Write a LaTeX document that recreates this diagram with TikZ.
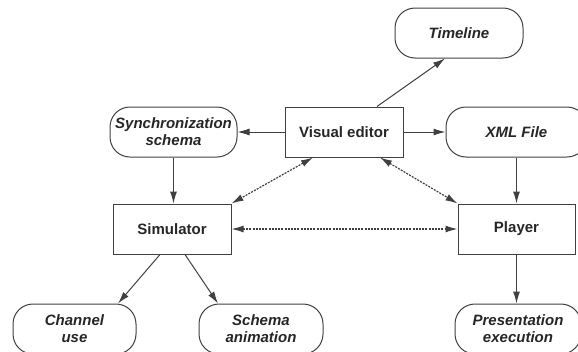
\documentclass[tikz,border=0pt]{standalone}
\usepackage{fontspec}
\setmainfont{Liberation Sans}
\usetikzlibrary{arrows.meta,calc}
\begin{document}
\begin{tikzpicture}[x=1pt,y=-1pt,
  every node/.style={font=\fontsize{15}{17}\selectfont\bfseries, text=black!85, align=center, inner sep=0pt, line width=1pt, draw=black!75},
  box/.style={draw, minimum height=50pt},
  oval/.style={draw, rounded corners=20pt, minimum height=50pt, font=\fontsize{15}{17}\selectfont\bfseries\itshape},
  tip/.tip={Latex[length=12pt,width=7pt]},
  arr/.style={-tip, line width=1pt, draw=black!75},
  dots/.style={tip-tip, line width=1.2pt, draw=black!75, dash pattern=on 2pt off 1.2pt}
]
\useasboundingbox (0,0) rectangle (578,351);

% components
\node[box, minimum width=118pt] (ve) at (344,132) {Visual editor};
\node[oval, minimum width=128pt] (tl) at (459,33) {Timeline};
\node[oval, minimum width=141pt] (xml) at (516.5,132) {XML File};
\node[oval, minimum width=127pt] (sync) at (173.5,132) {Synchronization\\schema};
\node[box, minimum width=118pt] (sim) at (172,229) {Simulator};
\node[box, minimum width=117pt] (pl) at (516.5,229) {Player};
\node[oval, minimum width=123pt] (ch) at (74.5,329) {Channel\\use};
\node[oval, minimum width=124pt] (sa) at (261,329) {Schema\\animation};
\node[oval, minimum width=126pt] (pe) at (518,329) {Presentation\\execution};

% data flow
\draw[arr] ($(ve.north)+(33,0)$) -- ($(tl.south)+(-14,0)$);
\draw[arr] (ve.west) -- (sync.east);
\draw[arr] (ve.east) -- (xml.west);
\draw[arr] (sync.south) -- (sync.south |- sim.north);
\draw[arr] (xml.south) -- (xml.south |- pl.north);
\draw[arr] (pl.south) -- (pl.south |- pe.north);
\draw[arr] ($(sim.south)+(-12,0)$) -- ($(ch.north)+(43.5,0)$);
\draw[arr] ($(sim.south)+(13,0)$) -- ($(sa.north)+(-43,0)$);

% two-way links
\draw[dots] ($(ve.south)+(-31,0)$) -- (sim.north east);
\draw[dots] ($(ve.south)+(36,0)$) -- (pl.north west);
\draw[dots] (sim.east) -- (pl.west);
\end{tikzpicture}
\end{document}
